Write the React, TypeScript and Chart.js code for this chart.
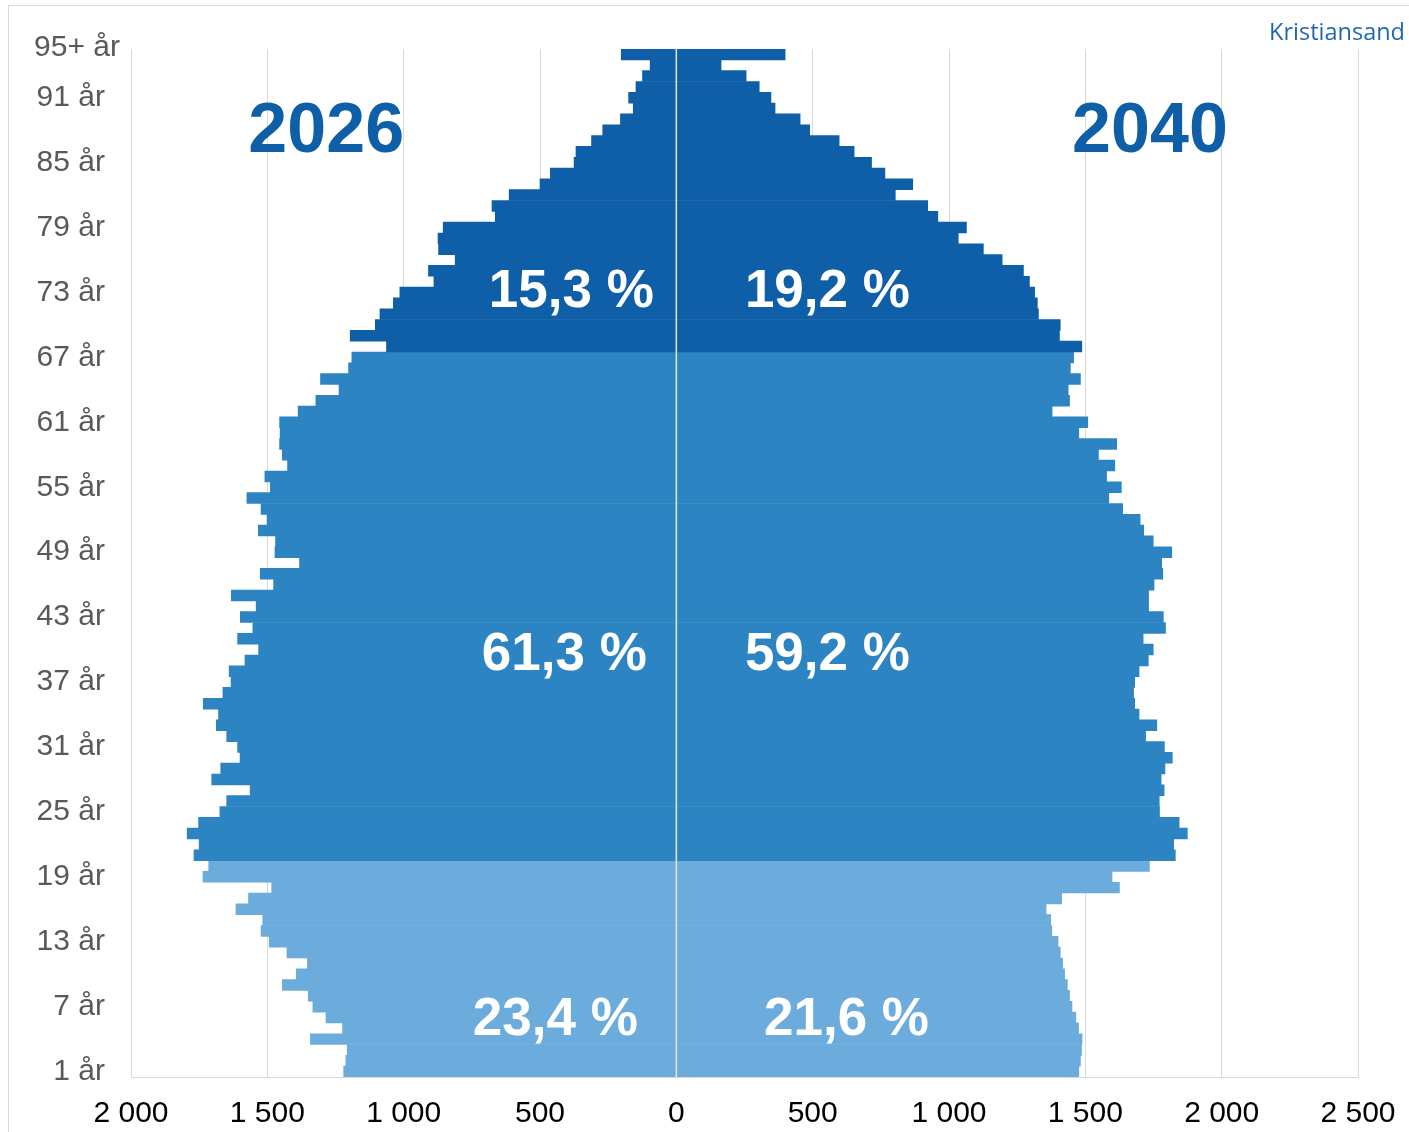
import React, { useEffect, useRef } from 'react';
import { Chart, registerables } from 'chart.js';

Chart.register(...registerables);

// Age categories from bottom (index 0) to top (index 94)
const categories: string[] = Array.from({ length: 95 }, (_, i) => (i === 94 ? '95+ år' : `${i + 1} år`));

// Population 2026 (drawn to the left), bottom to top
const pop2026 = [
  1220, 1212, 1207, 1342, 1224, 1285, 1333, 1350, 1445, 1394,
  1353, 1428, 1493, 1523, 1517, 1615, 1569, 1484, 1736, 1715,
  1769, 1750, 1794, 1752, 1674, 1649, 1563, 1704, 1671, 1600,
  1609, 1649, 1687, 1679, 1735, 1663, 1633, 1640, 1582, 1532,
  1609, 1553, 1599, 1541, 1632, 1477, 1526, 1382, 1472, 1470,
  1533, 1501, 1523, 1575, 1489, 1509, 1426, 1445, 1455, 1453,
  1455, 1387, 1322, 1237, 1305, 1202, 1190,
  1063, 1196, 1104, 1087, 1038, 1014, 889, 909, 811, 872,
  874, 855, 664, 676, 613, 500, 462, 375, 368, 311,
  270, 205, 158, 175, 148, 124, 96, 202,
];

// Population 2040 (drawn to the right), bottom to top
const pop2040 = [
  1476, 1482, 1486, 1488, 1475, 1465, 1451, 1442, 1434, 1424,
  1417, 1408, 1400, 1377, 1373, 1356, 1413, 1625, 1598, 1735,
  1830, 1824, 1874, 1844, 1772, 1771, 1789, 1778, 1792, 1819,
  1790, 1721, 1762, 1697, 1681, 1677, 1681, 1697, 1731, 1749,
  1712, 1794, 1786, 1732, 1732, 1752, 1784, 1780, 1817, 1749,
  1714, 1701, 1637, 1586, 1632, 1578, 1608, 1548, 1615, 1476,
  1509, 1378, 1442, 1437, 1482, 1445, 1457,
  1487, 1405, 1408, 1328, 1324, 1314, 1295, 1273, 1195, 1126,
  1034, 1064, 959, 922, 803, 867, 765, 716, 652, 597,
  489, 454, 362, 347, 304, 256, 164, 399,
];

const xMin = -2000;
const xMax = 2500;
const xStep = 500;
const yLabelEvery = 6;
const topCategoryLabel = '95+ år';

// age groups: start index of each group
const groupStarts = [0, 20, 67];
const groupColors = ['#6BACDD', '#2D84C3', '#0E5FA8'];
const shares2026 = ['23,4 %', '61,3 %', '15,3 %'];
const shares2040 = ['21,6 %', '59,2 %', '19,2 %'];
// label anchor positions (x value, category index)
const shareX2026 = [-444, -411, -385];
const shareX2040 = [624, 554, 554];
const shareY = [4.7, 38.5, 72.0];
const yearLabels = ['2026', '2040'];
const yearX = [-1284, 1737];
const yearY = 86.8;
const placeName = 'Kristiansand';

const fmt = (v: number) => {
  const s = Math.abs(v).toString();
  return s.replace(/\B(?=(\d{3})+(?!\d))/g, ' ');
};

const colorFor = (i: number) => {
  let g = 0;
  for (let k = 0; k < groupStarts.length; k++) if (i >= groupStarts[k]) g = k;
  return groupColors[g];
};

const overlay = {
  id: 'overlay',
  afterDatasetsDraw(chart: any) {
    const { ctx, chartArea, scales } = chart;
    const xs = scales.x;
    const ys = scales.y;
    ctx.save();
    // zero line over bars
    const x0 = xs.getPixelForValue(0);
    ctx.strokeStyle = '#e6e6e6';
    ctx.lineWidth = 1.5;
    ctx.beginPath();
    ctx.moveTo(x0, chartArea.top);
    ctx.lineTo(x0, chartArea.bottom);
    ctx.stroke();

    ctx.textAlign = 'center';
    ctx.textBaseline = 'middle';
    ctx.fillStyle = '#ffffff';
    ctx.font = 'bold 53px "Liberation Sans", Arial, sans-serif';
    for (let k = 0; k < shares2026.length; k++) {
      const y = ys.getPixelForValue(shareY[k]);
      ctx.fillText(shares2026[k], xs.getPixelForValue(shareX2026[k]), y);
      ctx.fillText(shares2040[k], xs.getPixelForValue(shareX2040[k]), y);
    }
    ctx.fillStyle = '#0E5FA8';
    ctx.font = 'bold 70px "Liberation Sans", Arial, sans-serif';
    for (let k = 0; k < yearLabels.length; k++) {
      ctx.fillText(yearLabels[k], xs.getPixelForValue(yearX[k]), ys.getPixelForValue(yearY));
    }

    // top category label
    ctx.textAlign = 'right';
    ctx.fillStyle = '#595959';
    ctx.font = '30px "Liberation Sans", Arial, sans-serif';
    ctx.fillText(topCategoryLabel, 120, 48);

    // place name
    ctx.fillStyle = '#1F68B0';
    ctx.font = '23.5px "Open Sans", sans-serif';
    ctx.fillText(placeName, 1405, 33);
    ctx.restore();
  },
};

export default function App() {
  const ref = useRef<HTMLCanvasElement>(null);
  useEffect(() => {
    if (!ref.current) return;
    const colors = categories.map((_, i) => colorFor(i));
    const chart = new Chart(ref.current, {
      type: 'bar',
      data: {
        labels: categories,
        datasets: [
          {
            label: '2026',
            data: pop2026.map((v) => -v),
            backgroundColor: colors,
            borderWidth: 0,
            barPercentage: 1,
            categoryPercentage: 1,
          },
          {
            label: '2040',
            data: pop2040,
            backgroundColor: colors,
            borderWidth: 0,
            barPercentage: 1,
            categoryPercentage: 1,
          },
        ],
      },
      options: {
        indexAxis: 'y',
        responsive: false,
        animation: false,
        layout: { padding: { top: 49, right: 51, left: 0, bottom: 0 } },
        plugins: { legend: { display: false }, tooltip: { enabled: false } },
        scales: {
          x: {
            type: 'linear',
            min: xMin,
            max: xMax,
            stacked: true,
            ticks: {
              stepSize: xStep,
              autoSkip: false,
              maxRotation: 0,
              padding: 19,
              color: '#000000',
              font: { family: '"Liberation Sans", Arial, sans-serif', size: 30 },
              callback: (v: any) => fmt(Number(v)),
            },
            grid: { color: '#d9d9d9', lineWidth: 1, drawTicks: false },
            border: { display: true, color: '#d9d9d9', width: 1 },
            afterFit: (s: any) => {
              s.height = 55;
              s.paddingLeft = 0;
              s.paddingRight = 0;
            },
          },
          y: {
            type: 'category',
            stacked: true,
            reverse: true,
            ticks: {
              autoSkip: false,
              padding: 26,
              color: '#595959',
              font: { family: '"Liberation Sans", Arial, sans-serif', size: 30 },
              callback: (_v: any, i: number) => (i % yLabelEvery === 0 && i < 94 ? categories[i] : ''),
            },
            grid: { display: false, drawTicks: false },
            border: { display: false },
            afterFit: (s: any) => {
              s.width = 131;
              s.paddingTop = 0;
              s.paddingBottom = 0;
            },
          },
        },
      },
      plugins: [overlay],
    } as any);
    return () => chart.destroy();
  }, []);

  return (
    <div>
      <div
        style={{
          position: 'fixed',
          left: 8,
          top: 5,
          width: 1500,
          height: 1300,
          border: '1px solid #d9d9d9',
          boxSizing: 'border-box',
        }}
      />
      <canvas
        ref={ref}
        width={1409}
        height={1132}
        style={{ position: 'fixed', left: 0, top: 0, width: 1409, height: 1132 }}
      />
    </div>
  );
}
